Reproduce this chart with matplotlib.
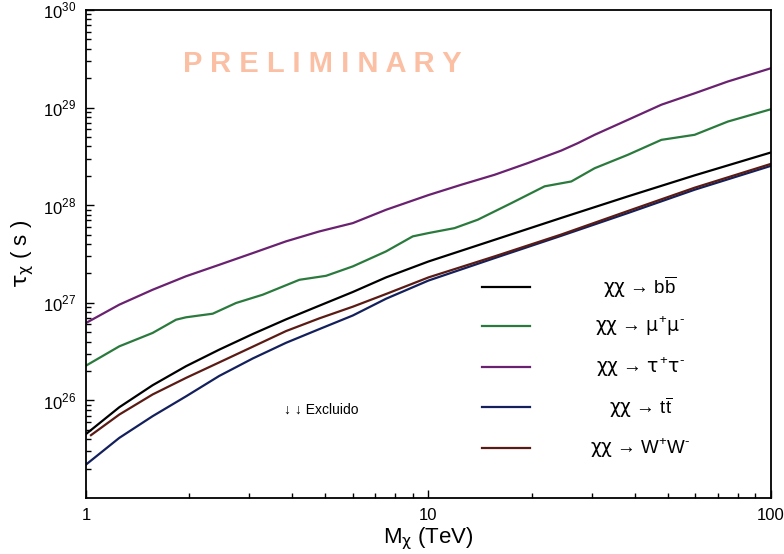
import numpy as np
import matplotlib
matplotlib.use("Agg")
import matplotlib.pyplot as plt
from matplotlib.ticker import LogLocator, NullFormatter, FixedLocator, FixedFormatter

plt.rcParams['font.family'] = ['Liberation Sans', 'DejaVu Sans']
plt.rcParams['mathtext.fontset'] = 'custom'
plt.rcParams['mathtext.rm'] = 'Liberation Sans'
plt.rcParams['mathtext.it'] = 'DejaVu Sans'   # upright greek like the original
plt.rcParams['mathtext.bf'] = 'Liberation Sans:bold'

# Lifetime lower limits per channel (M in TeV, tau in s)
m_bb = [1, 1.251, 1.565, 1.959, 2.449, 3.069, 3.837, 4.797, 6.012, 7.516, 10,
        15.60, 24.43, 38.19, 59.84, 100]
tau_bb = [4.52e25, 8.51e25, 1.43e26, 2.24e26, 3.31e26, 4.79e26, 6.76e26, 9.33e26,
          1.29e27, 1.82e27, 2.65e27, 4.42e27, 7.41e27, 1.23e28, 2.02e28, 3.47e28]

m_mumu = [1, 1.251, 1.565, 1.832, 1.959, 2.344, 2.742, 3.281, 4.198, 5.023, 6.012,
          7.516, 8.995, 10, 11.91, 13.93, 17.46, 21.83, 26.12, 30.55, 38.19, 47.86,
          59.84, 74.82, 100]
tau_mumu = [2.27e26, 3.58e26, 4.91e26, 6.71e26, 7.10e26, 7.73e26, 9.95e26, 1.21e27,
            1.72e27, 1.89e27, 2.36e27, 3.36e27, 4.79e27, 5.18e27, 5.82e27, 7.10e27,
            1.05e28, 1.56e28, 1.75e28, 2.39e28, 3.28e28, 4.67e28, 5.26e28, 7.19e28, 9.62e28]

m_tautau = [1, 1.251, 1.565, 1.959, 2.449, 3.069, 3.837, 4.797, 6.012, 7.516, 10,
            12.47, 15.60, 19.50, 24.43, 27.29, 30.55, 38.19, 47.86, 59.84, 74.82, 100]
tau_tautau = [6.21e26, 9.57e26, 1.36e27, 1.87e27, 2.45e27, 3.23e27, 4.26e27, 5.38e27,
              6.55e27, 8.97e27, 1.27e28, 1.62e28, 2.05e28, 2.70e28, 3.63e28, 4.32e28,
              5.26e28, 7.48e28, 1.07e29, 1.40e29, 1.85e29, 2.53e29]

m_tt = [1, 1.251, 1.565, 1.959, 2.449, 3.069, 3.837, 4.797, 6.012, 7.516, 10,
        15.60, 24.43, 38.19, 59.84, 100]
tau_tt = [2.20e25, 4.13e25, 6.89e25, 1.10e26, 1.78e26, 2.69e26, 3.89e26, 5.37e26,
          7.41e26, 1.10e27, 1.69e27, 2.87e27, 4.86e27, 8.30e27, 1.44e28, 2.53e28]

m_ww = [1.034, 1.251, 1.565, 1.959, 2.449, 3.069, 3.837, 4.797, 6.012, 7.516, 10,
        15.60, 24.43, 38.19, 59.84, 100]
tau_ww = [4.40e25, 7.16e25, 1.15e26, 1.70e26, 2.45e26, 3.55e26, 5.13e26, 6.92e26,
          9.12e26, 1.23e27, 1.82e27, 2.99e27, 5.01e27, 8.71e27, 1.51e28, 2.65e28]

labels = ['$\\chi\\chi$ → b$\\overline{\\mathrm{b}}$',
          '$\\chi\\chi$ → $\\mu^{+}\\mu^{\u2010}$',
          '$\\chi\\chi$ → $\\tau^{+}\\tau^{\u2010}$',
          '$\\chi\\chi$ → t$\\overline{\\mathrm{t}}$',
          '$\\chi\\chi$ → W$^{+}$W$^{\u2010}$']
colors = ['#000000', '#2b7a3d', '#6a2170', '#13205c', '#5a1b15']

fig = plt.figure(figsize=(7.84, 5.54), dpi=100)
ax = fig.add_axes([0.1097, 0.1011, 0.8737, 0.8809])

series = [(m_bb, tau_bb), (m_mumu, tau_mumu), (m_tautau, tau_tautau), (m_tt, tau_tt), (m_ww, tau_ww)]
for i in range(5):
    m, t = series[i]
    ax.plot(m, t, color=colors[i], lw=1.6, solid_joinstyle='round')

ax.set_xscale('log')
ax.set_yscale('log')
ax.set_xlim(1, 100)
ax.set_ylim(1e25, 1e30)

ax.yaxis.set_major_locator(FixedLocator([1e26, 1e27, 1e28, 1e29, 1e30]))
ax.yaxis.set_major_formatter(FixedFormatter([r'$10^{26}$', r'$10^{27}$', r'$10^{28}$', r'$10^{29}$', r'$10^{30}$']))
ax.yaxis.set_minor_locator(LogLocator(base=10, subs=np.arange(2, 10), numticks=20))
ax.yaxis.set_minor_formatter(NullFormatter())
ax.xaxis.set_major_locator(FixedLocator([1, 10, 100]))
ax.xaxis.set_major_formatter(FixedFormatter(['1', '10', '100']))
ax.xaxis.set_minor_locator(LogLocator(base=10, subs=np.arange(2, 10), numticks=20))
ax.xaxis.set_minor_formatter(NullFormatter())

ax.tick_params(which='both', direction='in', top=False, right=False, labelsize=12, width=1.0)
ax.tick_params(which='major', length=6, pad=7)
ax.tick_params(which='minor', length=3.5)
for s in ax.spines.values():
    s.set_linewidth(1.3)

ax.set_xlabel(r'M$_{\chi}$ (TeV)', fontsize=16, labelpad=2)
ax.set_ylabel(r'$\tau_{\chi}$ ( s )', fontsize=16, labelpad=5)

# legend drawn by hand: handle line left, centred label on the right
leg_y = [0.432, 0.352, 0.268, 0.186, 0.102]
for i in range(5):
    ax.plot([0.578, 0.648], [leg_y[i], leg_y[i]], transform=ax.transAxes, color=colors[i], lw=1.6)
    ax.text(0.809, leg_y[i], labels[i], transform=ax.transAxes, ha='center', va='center', fontsize=13.5)

ax.text(0.344, 0.18, '↓ ↓ Excluido', transform=ax.transAxes, ha='center', va='center', fontsize=10)
ax.text(0.345, 0.89, 'P R E L I M I N A R Y', transform=ax.transAxes, ha='center', va='center',
        fontsize=21, fontweight='bold', color='#fbbfa3')

fig.savefig('out.png', dpi=100)
